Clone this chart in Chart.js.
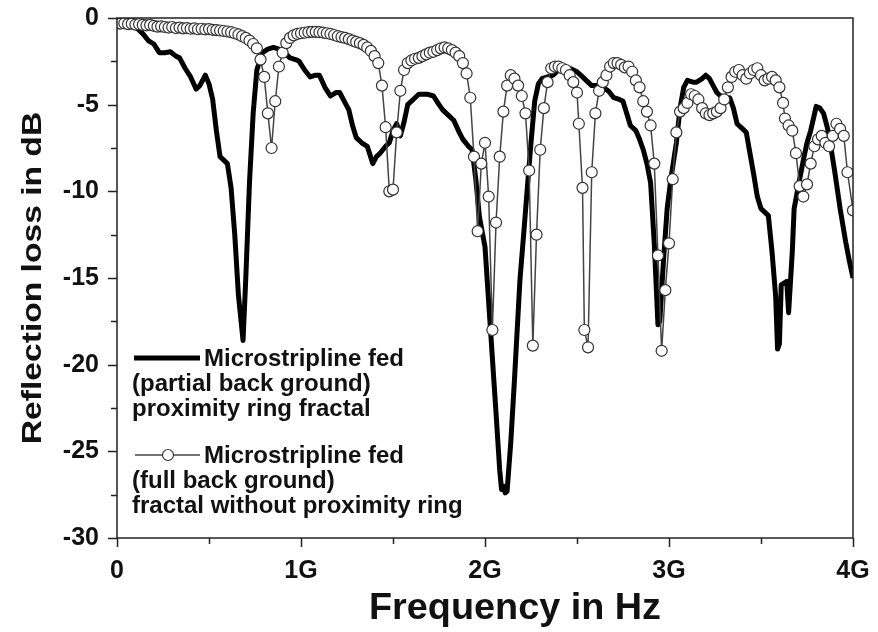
<!DOCTYPE html>
<html>
<head>
<meta charset="utf-8">
<script src="https://cdn.jsdelivr.net/npm/chart.js@4/dist/chart.umd.min.js"></script>
<style>
  html, body { margin: 0; padding: 0; background: #fff; }
  #wrap { width: 878px; height: 632px; }
</style>
</head>
<body>
<div id="wrap"><canvas id="rlChart" width="878" height="632"></canvas></div>
<script>
// Frequency in GHz, reflection loss in dB
const partialFreq = [0, 0.05, 0.1, 0.14, 0.17, 0.2, 0.23, 0.26, 0.29, 0.32, 0.34, 0.37, 0.4, 0.43, 0.45, 0.48, 0.5, 0.52, 0.54, 0.56, 0.58, 0.6, 0.62, 0.64, 0.66, 0.685, 0.7, 0.72, 0.74, 0.76, 0.79, 0.82, 0.85, 0.88, 0.91, 0.94, 0.97, 0.99,
  1.02, 1.05, 1.08, 1.1, 1.13, 1.16, 1.19, 1.21, 1.24, 1.26, 1.28, 1.3, 1.33, 1.36, 1.39, 1.41, 1.43, 1.46, 1.48, 1.5, 1.52, 1.54, 1.56, 1.58, 1.61, 1.64, 1.66, 1.69, 1.72, 1.75, 1.77, 1.8, 1.83, 1.86, 1.88, 1.91, 1.93, 1.95, 1.97,
  2.0, 2.03, 2.06, 2.08, 2.09, 2.1, 2.11, 2.12, 2.14, 2.16, 2.19, 2.21, 2.23, 2.25, 2.27, 2.29, 2.31, 2.34, 2.37, 2.4, 2.43, 2.46, 2.5, 2.53, 2.55, 2.58, 2.61, 2.64, 2.67, 2.7, 2.73, 2.75, 2.77, 2.79, 2.82, 2.84, 2.86, 2.88, 2.9, 2.92, 2.94, 2.95, 2.97, 2.99,
  3.01, 3.04, 3.06, 3.08, 3.1, 3.13, 3.15, 3.18, 3.2, 3.22, 3.24, 3.26, 3.28, 3.31, 3.33, 3.35, 3.37, 3.4, 3.42, 3.44, 3.46, 3.48, 3.5, 3.52, 3.54, 3.56, 3.58, 3.59, 3.6, 3.61, 3.64, 3.65, 3.67, 3.68, 3.71, 3.73, 3.75, 3.77, 3.8, 3.82, 3.84, 3.86, 3.87, 3.9, 3.93, 3.96, 3.98, 4.0];
const partialLoss = [-0.3, -0.35, -0.5, -0.9, -1.3, -1.5, -2.0, -2.0, -1.95, -2.2, -2.3, -2.9, -3.4, -4.1, -3.9, -3.3, -3.8, -4.7, -6.5, -8.0, -8.2, -8.4, -9.8, -12.5, -16.0, -18.6, -15.0, -9.5, -5.5, -3.0, -2.0, -1.8, -1.7, -1.8, -2.0, -2.3, -2.4, -2.5,
  -3.0, -3.4, -3.3, -3.3, -4.0, -4.5, -4.3, -4.3, -4.9, -5.3, -6.2, -6.9, -7.2, -7.4, -8.4, -8.0, -7.8, -7.4, -7.2, -6.5, -6.1, -6.8, -6.0, -5.0, -4.7, -4.4, -4.4, -4.4, -4.5, -5.0, -5.3, -5.6, -5.9, -6.6, -7.0, -7.4, -7.6, -9.3, -11.5,
  -13.2, -18.0, -22.8, -26.1, -27.2, -27.0, -27.4, -27.3, -24.5, -20.9, -15.1, -12.5, -9.8, -7.2, -4.8, -3.8, -3.5, -3.4, -3.3, -3.0, -2.9, -2.9, -3.1, -3.4, -3.6, -3.9, -3.9, -4.0, -4.2, -4.6, -4.7, -4.8, -5.5, -6.2, -6.5, -7.0, -7.6, -8.4, -9.5, -13.0, -17.7, -17.5, -14.0, -11.0,
  -9.3, -7.2, -5.2, -4.0, -3.6, -3.7, -3.7, -3.5, -3.3, -3.5, -3.9, -4.3, -4.5, -4.6, -4.6, -5.2, -6.1, -6.4, -6.6, -7.8, -9.0, -10.3, -11.0, -11.2, -11.4, -13.5, -16.1, -19.1, -18.8, -15.4, -15.2, -17.0, -13.5, -11.0, -9.3, -8.2, -7.2, -6.5, -5.1, -5.2, -5.5, -6.3, -6.8, -8.8, -11.0, -12.9, -14.0, -15.0];

const fullFreq = [0, 0.02, 0.04, 0.06, 0.08, 0.1, 0.12, 0.14, 0.16, 0.18, 0.2, 0.22, 0.24, 0.26, 0.28, 0.3, 0.32, 0.34, 0.36, 0.38, 0.4, 0.42, 0.44, 0.46, 0.48, 0.5, 0.52, 0.54, 0.56, 0.58, 0.6, 0.62, 0.64, 0.66, 0.68, 0.7, 0.72, 0.74, 0.76, 0.78, 0.8, 0.82, 0.84, 0.86, 0.88, 0.9, 0.92, 0.94, 0.96, 0.98,
  1.0, 1.02, 1.04, 1.06, 1.08, 1.1, 1.12, 1.14, 1.16, 1.18, 1.2, 1.22, 1.24, 1.26, 1.28, 1.3, 1.32, 1.34, 1.36, 1.38, 1.4, 1.42, 1.44, 1.46, 1.48, 1.5, 1.52, 1.54, 1.56, 1.58, 1.6, 1.62, 1.64, 1.66, 1.68, 1.7, 1.72, 1.74, 1.76, 1.78, 1.8, 1.82, 1.84, 1.86, 1.88, 1.9, 1.92, 1.94, 1.96, 1.98,
  2.0, 2.02, 2.04, 2.06, 2.08, 2.1, 2.12, 2.14, 2.16, 2.18, 2.2, 2.22, 2.24, 2.26, 2.28, 2.3, 2.32, 2.34, 2.36, 2.38, 2.4, 2.42, 2.44, 2.46, 2.48, 2.5, 2.51, 2.53, 2.54, 2.56, 2.58, 2.6, 2.62, 2.64, 2.66, 2.68, 2.7, 2.72, 2.74, 2.76, 2.78, 2.8, 2.82, 2.84, 2.86, 2.88, 2.9, 2.92, 2.94, 2.96, 2.98,
  3.0, 3.02, 3.04, 3.06, 3.08, 3.1, 3.12, 3.14, 3.16, 3.18, 3.2, 3.22, 3.24, 3.26, 3.28, 3.3, 3.32, 3.34, 3.36, 3.38, 3.4, 3.42, 3.44, 3.46, 3.48, 3.5, 3.52, 3.54, 3.56, 3.58, 3.6, 3.62, 3.63, 3.65, 3.67, 3.69, 3.71, 3.73, 3.75, 3.77, 3.79, 3.81, 3.83, 3.85, 3.87, 3.89, 3.91, 3.93, 3.95, 3.97, 4.0];
const fullLoss = [-0.3, -0.32, -0.3, -0.35, -0.33, -0.38, -0.36, -0.4, -0.42, -0.4, -0.45, -0.5, -0.48, -0.52, -0.55, -0.52, -0.58, -0.55, -0.6, -0.58, -0.62, -0.6, -0.65, -0.62, -0.66, -0.64, -0.68, -0.7, -0.72, -0.75, -0.78, -0.82, -0.88, -0.95, -1.05, -1.15, -1.3, -1.5, -1.75, -2.4, -3.4, -5.5, -7.5, -4.8, -2.8, -2.0, -1.45, -1.15, -1.0, -0.92,
  -0.88, -0.85, -0.82, -0.8, -0.8, -0.82, -0.84, -0.88, -0.92, -0.98, -1.05, -1.1, -1.15, -1.22, -1.3, -1.38, -1.45, -1.55, -1.7, -1.9, -2.2, -2.6, -3.9, -6.3, -10.0, -9.9, -6.6, -4.2, -3.0, -2.6, -2.45, -2.35, -2.3, -2.2, -2.1, -2.0, -1.95, -1.85, -1.75, -1.7, -1.75, -1.85, -2.0, -2.2, -2.6, -3.2, -4.6, -8.0, -12.3, -8.4,
  -7.2, -10.3, -18.0, -11.8, -8.0, -5.4, -3.9, -3.3, -3.5, -3.9, -4.5, -5.5, -8.8, -18.9, -12.5, -7.6, -5.2, -3.7, -2.9, -2.8, -2.8, -2.9, -3.0, -3.3, -3.7, -4.3, -6.1, -9.8, -18.0, -19.0, -8.9, -5.5, -4.2, -3.7, -3.3, -2.8, -2.6, -2.6, -2.7, -2.85, -2.8, -3.1, -3.6, -4.0, -4.8, -5.4, -6.2, -8.4, -13.7, -19.2, -15.7,
  -13.0, -9.3, -6.6, -5.4, -5.2, -4.9, -4.4, -4.5, -4.7, -5.2, -5.5, -5.6, -5.5, -5.4, -5.2, -4.7, -4.0, -3.4, -3.1, -3.0, -3.3, -3.5, -3.2, -3.0, -2.9, -3.3, -3.6, -3.5, -3.4, -3.6, -4.0, -4.9, -5.8, -6.2, -6.5, -7.8, -9.7, -10.3, -9.6, -8.4, -7.4, -7.0, -6.8, -7.2, -7.4, -6.8, -6.1, -6.4, -6.8, -8.9, -11.1];

const xTickLabels = ['0', '1G', '2G', '3G', '4G'];
const seriesNames = [
  ['Microstripline fed', '(partial back ground)', 'proximity ring fractal'],
  ['Microstripline fed', '(full back ground)', 'fractal without proximity ring']
];

const FONT = '"Liberation Sans", Arial, sans-serif';
const INK = '#222';

function toPoints(xs, ys) {
  return xs.map((x, i) => ({ x: x, y: ys[i] }));
}

// draw text stretched along its own direction
function stretchedText(ctx, text, x, y, sx) {
  ctx.save();
  ctx.translate(x, y);
  ctx.scale(sx, 1);
  ctx.fillText(text, 0, 0);
  ctx.restore();
}

// frame, tick marks, axis titles and the in-plot legend
const decorPlugin = {
  id: 'decor',
  afterDraw(chart) {
    const { ctx, chartArea: a, scales: { x, y } } = chart;
    ctx.save();
    ctx.strokeStyle = INK;
    ctx.lineWidth = 1.5;
    ctx.strokeRect(a.left, a.top, a.right - a.left, a.bottom - a.top);

    ctx.beginPath();
    x.ticks.forEach(t => {
      const px = Math.round(x.getPixelForValue(t.value)) + 0.5;
      const len = Number.isInteger(t.value) ? 9 : 6;
      ctx.moveTo(px, a.bottom);
      ctx.lineTo(px, a.bottom + len);
    });
    y.ticks.forEach(t => {
      const py = Math.round(y.getPixelForValue(t.value)) + 0.5;
      const len = t.value % 5 === 0 ? 9 : 6;
      ctx.moveTo(a.left, py);
      ctx.lineTo(a.left - len, py);
    });
    ctx.stroke();

    // axis titles
    ctx.fillStyle = '#111';
    ctx.textAlign = 'center';
    ctx.textBaseline = 'middle';
    ctx.font = 'bold 36px ' + FONT;
    stretchedText(ctx, 'Frequency in Hz', 515, 609, 1.05);
    ctx.save();
    ctx.translate(33, 278);
    ctx.rotate(-Math.PI / 2);
    ctx.font = 'bold 28px ' + FONT;
    stretchedText(ctx, 'Reflection loss in dB', 0, 0, 1.2);
    ctx.restore();

    // legend
    const ds = chart.data.datasets;
    const black = ds.find(d => d.key === 'partial');
    const open = ds.find(d => d.key === 'full');
    ctx.font = 'bold 24px ' + FONT;
    ctx.textAlign = 'left';
    ctx.textBaseline = 'middle';

    ctx.strokeStyle = black.borderColor;
    ctx.lineWidth = black.borderWidth;
    ctx.lineCap = 'butt';
    ctx.beginPath();
    ctx.moveTo(134, 358);
    ctx.lineTo(200, 358);
    ctx.stroke();
    ctx.fillStyle = '#111';
    ctx.fillText(seriesNames[0][0], 204, 359);
    ctx.fillText(seriesNames[0][1], 132, 384);
    ctx.fillText(seriesNames[0][2], 132, 409);

    ctx.strokeStyle = open.borderColor;
    ctx.lineWidth = open.borderWidth;
    ctx.beginPath();
    ctx.moveTo(135, 455);
    ctx.lineTo(200, 455);
    ctx.stroke();
    ctx.beginPath();
    ctx.arc(168, 455, open.pointRadius, 0, Math.PI * 2);
    ctx.fillStyle = open.pointBackgroundColor;
    ctx.fill();
    ctx.strokeStyle = open.pointBorderColor;
    ctx.lineWidth = open.pointBorderWidth;
    ctx.stroke();
    ctx.fillStyle = '#111';
    ctx.fillText(seriesNames[1][0], 204, 456);
    ctx.fillText(seriesNames[1][1], 132, 481);
    ctx.fillText(seriesNames[1][2], 132, 506);
    ctx.restore();
  }
};

new Chart(document.getElementById('rlChart').getContext('2d'), {
  type: 'scatter',
  data: {
    datasets: [{
      key: 'full',
      data: toPoints(fullFreq, fullLoss),
      showLine: true,
      order: 1,
      borderColor: '#444',
      borderWidth: 1.5,
      pointRadius: 5.5,
      pointBackgroundColor: '#fff',
      pointBorderColor: '#333',
      pointBorderWidth: 1.2,
      tension: 0
    }, {
      key: 'partial',
      data: toPoints(partialFreq, partialLoss),
      showLine: true,
      order: 2,
      borderColor: '#000',
      borderWidth: 5,
      borderJoinStyle: 'round',
      pointRadius: 0,
      tension: 0
    }]
  },
  options: {
    responsive: false,
    animation: false,
    layout: { padding: { top: 18, right: 25, left: 0, bottom: 0 } },
    plugins: { legend: { display: false }, tooltip: { enabled: false } },
    scales: {
      x: {
        type: 'linear',
        min: 0,
        max: 4,
        grid: { display: false },
        border: { display: false },
        afterFit: s => { s.height = 94; s.paddingLeft = 0; s.paddingRight = 0; },
        ticks: {
          stepSize: 0.5,
          autoSkip: false,
          maxRotation: 0,
          padding: 10,
          color: '#111',
          font: { family: FONT, size: 25, weight: 'bold' },
          callback: v => Number.isInteger(v) ? xTickLabels[v] : ''
        }
      },
      y: {
        min: -30,
        max: 0,
        grid: { display: false },
        border: { display: false },
        afterFit: s => { s.width = 117; s.paddingTop = 0; s.paddingBottom = 0; },
        ticks: {
          stepSize: 2.5,
          autoSkip: false,
          padding: 10,
          color: '#111',
          font: { family: FONT, size: 25, weight: 'bold' },
          callback: v => v % 5 === 0 ? String(v) : ''
        }
      }
    }
  },
  plugins: [decorPlugin]
});
</script>
</body>
</html>
